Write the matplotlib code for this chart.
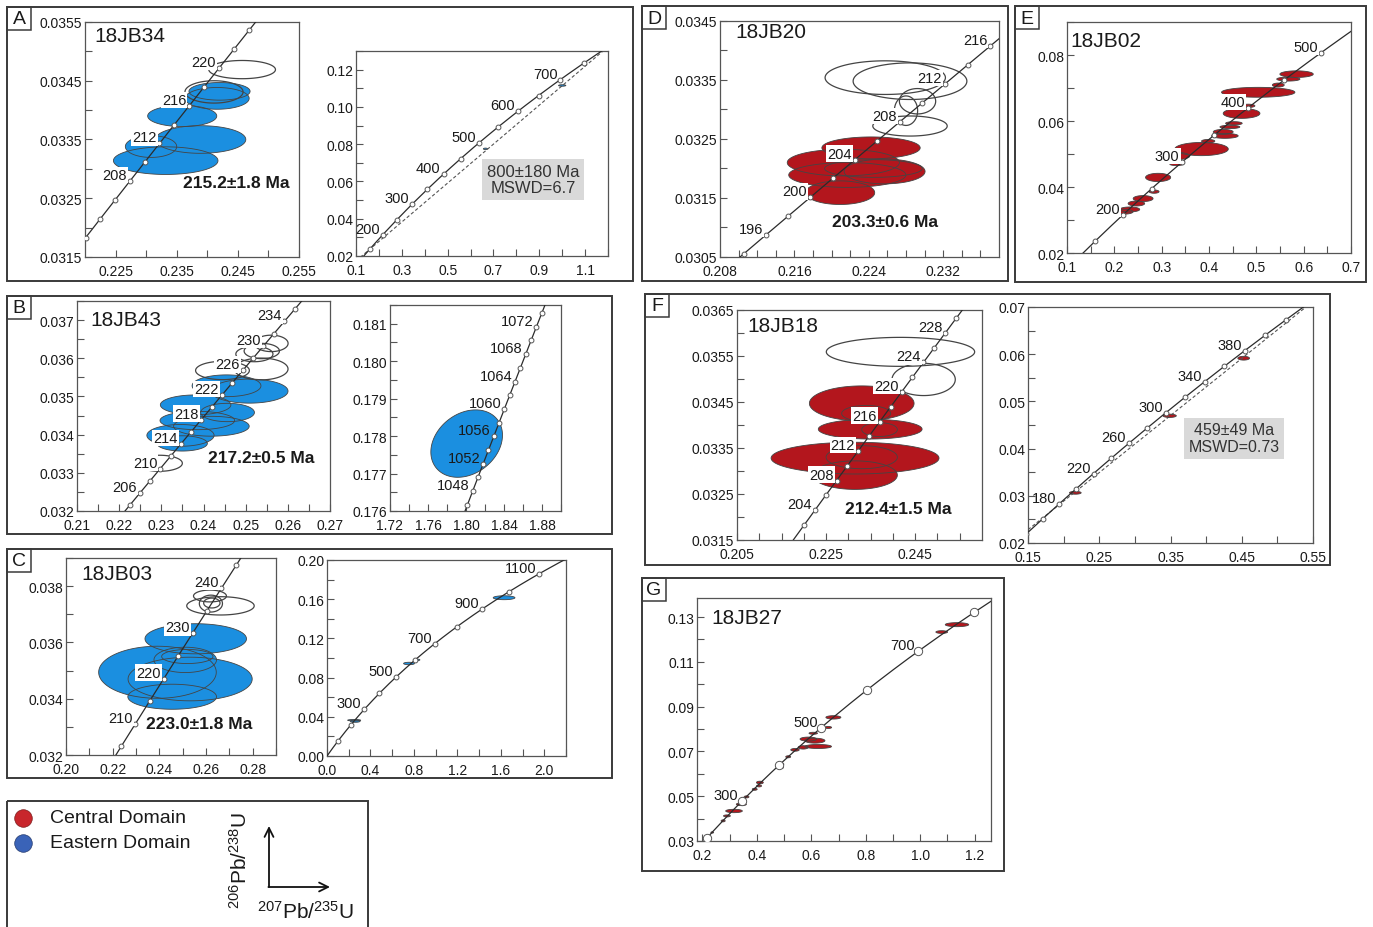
import numpy as np
import matplotlib
matplotlib.use('Agg')
import matplotlib.pyplot as plt
from matplotlib.patches import Rectangle, Polygon
from matplotlib.ticker import FixedLocator, FormatStrFormatter

plt.rcParams['font.family'] = ['Liberation Sans', 'DejaVu Sans']
plt.rcParams['mathtext.default'] = 'regular'

W, H = 1373, 928
BLUE = '#1b8fe0'
RED = '#b3161d'
EDGE = '#444444'

# U-Pb decay constants (1/yr)
L238 = 1.55125e-10
L235 = 9.8485e-10

# ---- 18JB34 (A) ----
a_filled = [(0.2332, 0.03314, 0.0171, 0.00047), (0.2389, 0.03350, 0.0148, 0.00047),
            (0.2308, 0.03338, 0.0084, 0.00037), (0.2359, 0.03390, 0.0113, 0.00036),
            (0.2416, 0.03420, 0.0105, 0.00037), (0.2420, 0.03432, 0.0100, 0.00030)]
a_open = [(0.2457, 0.03469, 0.0109, 0.00031), (0.2411, 0.03431, 0.0095, 0.00038)]
a_marks = [202, 204, 206, 208, 210, 212, 214, 216, 218, 220, 222, 224, 226]
a_labels = [208, 212, 216, 220]
a_age = '215.2±1.8 Ma'

a2_filled = [(0.665, 0.0775, 0.018, 0.0008), (1.000, 0.1115, 0.032, 0.0008)]
a2_marks = [150, 200, 250, 300, 350, 400, 450, 500, 550, 600, 650, 700, 750, 800]
a2_labels = [200, 300, 400, 500, 600, 700]
a2_intercepts = [150, 800]
a2_result = '800±180 Ma\nMSWD=6.7'

# ---- 18JB43 (B) ----
b_filled = [(0.25088, 0.03514, 0.01833, 0.00063), (0.24546, 0.03528, 0.01633, 0.00057),
            (0.23813, 0.03478, 0.01673, 0.00052), (0.24570, 0.03458, 0.01275, 0.00048),
            (0.23853, 0.03437, 0.01769, 0.00048), (0.24187, 0.03422, 0.01793, 0.00052),
            (0.23454, 0.03398, 0.01594, 0.00057), (0.23494, 0.03377, 0.01195, 0.00040)]
b_open = [(0.22960, 0.03325, 0.01076, 0.00042), (0.24450, 0.03568, 0.01275, 0.00048),
          (0.25367, 0.03572, 0.01275, 0.00057), (0.25382, 0.03619, 0.00837, 0.00040),
          (0.25606, 0.03639, 0.00800, 0.00043), (0.25207, 0.03611, 0.00880, 0.00040)]
b_marks = [202, 204, 206, 208, 210, 212, 214, 216, 218, 220, 222, 224, 226, 228,
           230, 232, 234, 236]
b_labels = [206, 210, 214, 218, 222, 226, 230, 234]
b_age = '217.2±0.5 Ma'

b2_ellipse = (1.8007, 0.1778, 0.0754, 0.0018, 0.25)
b2_marks = [1044, 1046, 1048, 1050, 1052, 1054, 1056, 1058, 1060, 1062, 1064, 1066,
            1068, 1070, 1072, 1074, 1076]
b2_labels = [1048, 1052, 1056, 1060, 1064, 1068, 1072]

# ---- 18JB03 (C) ----
c_filled = [(0.2556, 0.03613, 0.0435, 0.00107), (0.2392, 0.03494, 0.0504, 0.00185),
            (0.2532, 0.03470, 0.0532, 0.00155), (0.2455, 0.03407, 0.0380, 0.00089),
            (0.2511, 0.03538, 0.0268, 0.00090), (0.2520, 0.03550, 0.0220, 0.00050)]
c_open = [(0.2617, 0.03765, 0.0141, 0.00042), (0.2662, 0.03730, 0.0289, 0.00065),
          (0.2621, 0.03738, 0.0099, 0.00060), (0.2625, 0.03740, 0.0070, 0.00035)]
c_marks = [200, 205, 210, 215, 220, 225, 230, 235, 240, 245, 250]
c_labels = [210, 220, 230, 240]
c_age = '223.0±1.8 Ma'

c2_filled = [(0.25, 0.0365, 0.12, 0.0015), (0.26, 0.0355, 0.09, 0.0022),
             (0.755, 0.0944, 0.10, 0.0025), (0.83, 0.0981, 0.05, 0.0015),
             (1.63, 0.1615, 0.20, 0.0040)]
c2_marks = [100, 200, 300, 400, 500, 600, 700, 800, 900, 1000, 1100, 1200]
c2_labels = [300, 500, 700, 900, 1100]

# ---- 18JB20 (D) ----
d_filled = [(0.22424, 0.03235, 0.01057, 0.00037), (0.22126, 0.03210, 0.01206, 0.00045),
            (0.22169, 0.03189, 0.01260, 0.00042), (0.22570, 0.03195, 0.00870, 0.00042),
            (0.22091, 0.03159, 0.00745, 0.00040), (0.22450, 0.03200, 0.01050, 0.00030)]
d_open = [(0.22577, 0.03354, 0.01294, 0.00057), (0.22843, 0.03348, 0.01223, 0.00062),
          (0.22924, 0.03314, 0.00390, 0.00043), (0.22800, 0.03298, 0.00250, 0.00050),
          (0.22843, 0.03272, 0.00800, 0.00034)]
d_marks = [194, 196, 198, 200, 202, 204, 206, 208, 210, 212, 214, 216, 218]
d_labels = [196, 200, 204, 208, 212, 216]
d_age = '203.3±0.6 Ma'

# ---- 18JB02 (E) ----
e_filled = [(0.585, 0.0742, 0.0705, 0.0020), (0.5676, 0.0727, 0.049, 0.0012),
            (0.5464, 0.0709, 0.025, 0.0012), (0.504, 0.0687, 0.155, 0.0030),
            (0.483, 0.0646, 0.028, 0.0010), (0.4688, 0.0623, 0.0776, 0.0030),
            (0.4526, 0.0593, 0.035, 0.0010), (0.4441, 0.0582, 0.042, 0.0010),
            (0.430, 0.0567, 0.042, 0.0015), (0.4336, 0.0555, 0.056, 0.0015),
            (0.3983, 0.0539, 0.028, 0.0010), (0.3842, 0.0515, 0.113, 0.0040),
            (0.3313, 0.0494, 0.056, 0.0022), (0.3313, 0.0469, 0.028, 0.0008),
            (0.2925, 0.0429, 0.053, 0.0025), (0.2840, 0.0386, 0.021, 0.0010),
            (0.2608, 0.0365, 0.042, 0.0018), (0.2466, 0.0350, 0.035, 0.0015),
            (0.2326, 0.0332, 0.042, 0.0015), (0.2186, 0.0325, 0.042, 0.0015)]
e_marks = [150, 200, 250, 300, 350, 400, 450, 500, 550]
e_labels = [200, 300, 400, 500]

# ---- 18JB18 (F) ----
f_filled = [(0.2330, 0.03447, 0.0235, 0.00076), (0.2349, 0.03391, 0.0233, 0.00043),
            (0.2315, 0.03328, 0.0377, 0.00069), (0.2315, 0.03291, 0.0190, 0.00062),
            (0.2340, 0.03425, 0.0110, 0.00035), (0.2370, 0.03390, 0.0080, 0.00030),
            (0.2330, 0.03330, 0.0160, 0.00050)]
f_open = [(0.2417, 0.03559, 0.0333, 0.00063), (0.2469, 0.03499, 0.0142, 0.00070)]
f_marks = [202, 204, 206, 208, 210, 212, 214, 216, 218, 220, 222, 224, 226, 228,
           230, 232]
f_labels = [204, 208, 212, 216, 220, 224, 228]
f_age = '212.4±1.5 Ma'

f2_filled = [(0.2164, 0.03064, 0.0164, 0.0006), (0.3488, 0.04695, 0.0187, 0.0007),
             (0.4527, 0.05915, 0.0164, 0.0008)]
f2_marks = [140, 160, 180, 200, 220, 240, 260, 280, 300, 320, 340, 360, 380, 400,
            420, 440, 460]
f2_labels = [180, 220, 260, 300, 340, 380]
f2_intercepts = [170, 459]
f2_result = '459±49 Ma\nMSWD=0.73'

# ---- 18JB27 (G) ----
g_filled = [(1.135, 0.1266, 0.086, 0.0018), (1.079, 0.1233, 0.043, 0.0012),
            (0.681, 0.0852, 0.055, 0.0015), (0.662, 0.0807, 0.025, 0.0009),
            (0.607, 0.0781, 0.031, 0.0009), (0.589, 0.0755, 0.061, 0.0018),
            (0.613, 0.0748, 0.074, 0.0022), (0.625, 0.0722, 0.098, 0.0018),
            (0.570, 0.0718, 0.037, 0.0015), (0.540, 0.0707, 0.031, 0.0012),
            (0.515, 0.0676, 0.018, 0.0009), (0.490, 0.0643, 0.018, 0.0009),
            (0.490, 0.0628, 0.015, 0.0008), (0.411, 0.0561, 0.025, 0.0012),
            (0.408, 0.0546, 0.018, 0.0009), (0.392, 0.0531, 0.018, 0.0009),
            (0.362, 0.0497, 0.018, 0.0009), (0.343, 0.0464, 0.037, 0.0012),
            (0.316, 0.0434, 0.061, 0.0015), (0.290, 0.0412, 0.025, 0.0009),
            (0.276, 0.0390, 0.015, 0.0009), (0.236, 0.0338, 0.010, 0.0006)]
g_marks = [200, 300, 400, 500, 600, 700, 800]
g_labels = [300, 500, 700]


def concordia(t_ma):
    t = np.asarray(t_ma, dtype=float) * 1e6
    return np.expm1(L235 * t), np.expm1(L238 * t)


def ellipse_xy(cx, cy, w, h, rho=0.0, n=160):
    t = np.linspace(0, 2 * np.pi, n)
    x = cx + 0.5 * w * np.cos(t)
    y = cy + 0.5 * h * (rho * np.cos(t) + np.sqrt(1 - rho ** 2) * np.sin(t))
    return np.column_stack([x, y])


def make_axes(fig, box, xlim, ylim, xmaj, xmin, ymaj, ymin, xfmt, yfmt):
    x0, y0, x1, y1 = box
    ax = fig.add_axes([x0 / W, 1 - y1 / H, (x1 - x0) / W, (y1 - y0) / H])
    ax.set_xlim(xlim)
    ax.set_ylim(ylim)
    ax.xaxis.set_major_locator(FixedLocator(xmaj))
    ax.xaxis.set_minor_locator(FixedLocator(xmin))
    ax.yaxis.set_major_locator(FixedLocator(ymaj))
    ax.yaxis.set_minor_locator(FixedLocator(ymin))
    ax.xaxis.set_major_formatter(FormatStrFormatter(xfmt))
    ax.yaxis.set_major_formatter(FormatStrFormatter(yfmt))
    ax.tick_params(which='both', direction='in', length=5, width=0.8, color='#555555',
                   labelsize=10, labelcolor='#1a1a1a')
    ax.tick_params(axis='x', which='both', pad=5)
    ax.tick_params(axis='y', which='both', pad=2)
    for sp in ax.spines.values():
        sp.set_color('#555555')
        sp.set_linewidth(0.9)
    return ax


def draw_ellipses(ax, filled, opened, color):
    shapes = [ellipse_xy(*e) for e in filled]
    for xy in shapes:
        ax.add_patch(Polygon(xy, closed=True, fc=color, ec='none', zorder=2))
    for xy in shapes:
        ax.add_patch(Polygon(xy, closed=True, fill=False, ec=EDGE, lw=0.6, zorder=3))
    for e in opened:
        ax.add_patch(Polygon(ellipse_xy(*e), closed=True, fill=False, ec=EDGE,
                             lw=0.9, zorder=3))


def draw_concordia(ax, marks, labels, span, ms=3.5, fs=10.5, boxed=True):
    cx, cy = concordia(np.linspace(span[0], span[1], 600))
    ax.plot(cx, cy, color='#2b2b2b', lw=0.9, zorder=4)
    mx, my = concordia(marks)
    ax.plot(mx, my, 'o', ms=ms, mfc='white', mec='#555555', mew=0.7, zorder=5)
    lx, ly = concordia(labels)
    for age, x, y in zip(labels, lx, ly):
        kw = {}
        if boxed:
            kw['bbox'] = dict(boxstyle='square,pad=0.08', fc='white', ec='none')
        ax.annotate(str(age), (x, y), xytext=(-3, 6), textcoords='offset pixels',
                    ha='right', va='center', fontsize=fs, color='#1a1a1a',
                    zorder=6, **kw)


def draw_discordia(ax, ages):
    (x1, x2), (y1, y2) = concordia(ages)
    slope = (y2 - y1) / (x2 - x1)
    xs = np.array(ax.get_xlim())
    ax.plot(xs, y1 + slope * (xs - x1), ls=(0, (3, 2)), color='#555555', lw=0.8,
            zorder=3)


def sample_name(ax, name, dx, dy):
    ax.annotate(name, (0, 1), xycoords='axes fraction', xytext=(dx, -dy),
                textcoords='offset pixels', ha='left', va='center', fontsize=15,
                color='#1a1a1a', zorder=7)


def age_text(ax, x, y, txt):
    ax.text(x, y, txt, ha='center', va='center', fontsize=12.5, fontweight='bold',
            color='#1a1a1a', zorder=7)


def result_box(ax, x, y, txt, fs):
    ax.text(x, y, txt, ha='center', va='center', fontsize=fs, color='#333333',
            linespacing=1.15, zorder=7,
            bbox=dict(boxstyle='square,pad=0.3', fc='#d9d9d9', ec='none'))


fig = plt.figure(figsize=(W / 100, H / 100), dpi=100)

# overlay in pixel coordinates for frames, panel letters and the legend
ov = fig.add_axes([0, 0, 1, 1])
ov.set_xlim(0, W)
ov.set_ylim(H, 0)
ov.axis('off')

frames = {'A': (7, 8, 633, 282), 'B': (7, 297, 612, 535), 'C': (7, 550, 612, 779),
          'D': (642, 7, 1008, 282), 'E': (1015, 7, 1366, 283),
          'F': (645, 295, 1330, 566), 'G': (642, 579, 1004, 872)}
for letter, (x0, y0, x1, y1) in frames.items():
    ov.add_patch(Rectangle((x0, y0), x1 - x0, y1 - y0, fill=False, ec='#3a3a3a', lw=1.4))
    ov.add_patch(Rectangle((x0, y0), 24, 23, fill=False, ec='#3a3a3a', lw=1.1))
    ov.text(x0 + 12, y0 + 12, letter, ha='center', va='center', fontsize=14,
            color='#1a1a1a')

# legend box
ov.add_patch(Rectangle((7, 802), 361, 140, fill=False, ec='#3a3a3a', lw=1.4))
ov.scatter([23], [819], s=160, c='#c8262c', edgecolors='#7a1a1a', linewidths=0.5)
ov.scatter([23], [844], s=160, c='#3a63b8', edgecolors='#22386b', linewidths=0.5)
ov.text(50, 819, 'Central Domain', ha='left', va='center', fontsize=14, color='#1a1a1a')
ov.text(50, 844, 'Eastern Domain', ha='left', va='center', fontsize=14, color='#1a1a1a')
ov.text(240, 860, r'$^{206}$Pb/$^{238}$U', rotation=90, ha='center', va='center',
        fontsize=15, color='#1a1a1a')
ov.text(306, 912, r'$^{207}$Pb/$^{235}$U', ha='center', va='center', fontsize=15,
        color='#1a1a1a')
ov.annotate('', xy=(269, 827), xytext=(269, 888),
            arrowprops=dict(arrowstyle='->', lw=1.3, color='#111111', mutation_scale=16,
                            shrinkA=0, shrinkB=0))
ov.annotate('', xy=(330, 888), xytext=(268.4, 888),
            arrowprops=dict(arrowstyle='->', lw=1.3, color='#111111', mutation_scale=16,
                            shrinkA=0, shrinkB=0))

# A
ax = make_axes(fig, (85, 23, 299, 258), (0.220, 0.255), (0.0315, 0.0355),
               [0.225, 0.235, 0.245, 0.255], [0.230, 0.240, 0.250],
               np.arange(0.0315, 0.03551, 0.001), np.arange(0.032, 0.0351, 0.001),
               '%.3f', '%.4f')
draw_ellipses(ax, a_filled, a_open, BLUE)
draw_concordia(ax, a_marks, a_labels, (198, 230))
sample_name(ax, '18JB34', 9, 14)
age_text(ax, 0.2447, 0.03277, a_age)

ax = make_axes(fig, (356, 52, 608, 257), (0.1, 1.2), (0.02, 0.13),
               np.arange(0.1, 1.11, 0.2), np.arange(0.2, 1.21, 0.2),
               np.arange(0.02, 0.121, 0.02), np.arange(0.03, 0.131, 0.02),
               '%.1f', '%.2f')
draw_discordia(ax, a2_intercepts)
draw_ellipses(ax, a2_filled, [], BLUE)
draw_concordia(ax, a2_marks, a2_labels, (100, 850), boxed=False)
result_box(ax, 0.872, 0.0611, a2_result, 12)

# B
ax = make_axes(fig, (77, 302, 330, 512), (0.21, 0.27), (0.032, 0.0375),
               np.arange(0.21, 0.2701, 0.01), np.arange(0.215, 0.27, 0.01),
               np.arange(0.032, 0.03701, 0.001), np.arange(0.0325, 0.0376, 0.001),
               '%.2f', '%.3f')
draw_ellipses(ax, b_filled, b_open, BLUE)
draw_concordia(ax, b_marks, b_labels, (198, 240))
sample_name(ax, '18JB43', 13, 18)
age_text(ax, 0.25367, 0.03339, b_age)

ax = make_axes(fig, (390, 306, 561, 512), (1.72, 1.90), (0.176, 0.1815),
               [1.72, 1.76, 1.80, 1.84, 1.88], [1.74, 1.78, 1.82, 1.86, 1.90],
               np.arange(0.176, 0.18101, 0.001), np.arange(0.1765, 0.1816, 0.001),
               '%.2f', '%.3f')
cx, cy, w, h, rho = b2_ellipse
xy = ellipse_xy(cx, cy, w, h, rho)
ax.add_patch(Polygon(xy, closed=True, fc=BLUE, ec=EDGE, lw=0.6, zorder=2))
draw_concordia(ax, b2_marks, b2_labels, (1030, 1090), boxed=False)

# C
ax = make_axes(fig, (66, 559, 276, 756), (0.20, 0.29), (0.032, 0.039),
               np.arange(0.20, 0.2801, 0.02), np.arange(0.21, 0.291, 0.02),
               np.arange(0.032, 0.03801, 0.002), np.arange(0.033, 0.0391, 0.002),
               '%.2f', '%.3f')
draw_ellipses(ax, c_filled, c_open, BLUE)
draw_concordia(ax, c_marks, c_labels, (195, 255))
sample_name(ax, '18JB03', 15, 16)
age_text(ax, 0.2572, 0.03313, c_age)

ax = make_axes(fig, (327, 561, 566, 757), (0.0, 2.2), (0.0, 0.2),
               np.arange(0.0, 2.01, 0.4), np.arange(0.2, 2.21, 0.4),
               np.arange(0.0, 0.201, 0.04), np.arange(0.02, 0.2, 0.04),
               '%.1f', '%.2f')
draw_ellipses(ax, c2_filled, [], BLUE)
draw_concordia(ax, c2_marks, c2_labels, (0, 1300), boxed=False)

# D
ax = make_axes(fig, (720, 22, 999, 258), (0.208, 0.238), (0.0305, 0.0345),
               [0.208, 0.216, 0.224, 0.232],
               [0.210, 0.212, 0.214, 0.218, 0.220, 0.222, 0.226, 0.228, 0.230,
                0.234, 0.236],
               np.arange(0.0305, 0.03451, 0.001), np.arange(0.031, 0.0341, 0.001),
               '%.3f', '%.4f')
draw_ellipses(ax, d_filled, d_open, RED)
draw_concordia(ax, d_marks, d_labels, (190, 222))
sample_name(ax, '18JB20', 15, 10)
age_text(ax, 0.2257, 0.03111, d_age)

# E
ax = make_axes(fig, (1067, 23, 1351, 254), (0.1, 0.7), (0.02, 0.09),
               np.arange(0.1, 0.701, 0.1), np.arange(0.15, 0.7, 0.1),
               np.arange(0.02, 0.0801, 0.02), np.arange(0.03, 0.091, 0.02),
               '%.1f', '%.2f')
draw_ellipses(ax, e_filled, [], RED)
draw_concordia(ax, e_marks, e_labels, (100, 600))
sample_name(ax, '18JB02', 3, 18)

# F
ax = make_axes(fig, (737, 311, 982, 541), (0.205, 0.26), (0.0315, 0.0365),
               [0.205, 0.225, 0.245],
               [0.210, 0.215, 0.220, 0.230, 0.235, 0.240, 0.250, 0.255],
               np.arange(0.0315, 0.03651, 0.001), np.arange(0.032, 0.0361, 0.001),
               '%.3f', '%.4f')
draw_ellipses(ax, f_filled, f_open, RED)
draw_concordia(ax, f_marks, f_labels, (198, 236))
sample_name(ax, '18JB18', 10, 15)
age_text(ax, 0.2413, 0.03218, f_age)

ax = make_axes(fig, (1028, 308, 1313, 544), (0.15, 0.55), (0.02, 0.07),
               np.arange(0.15, 0.551, 0.1), np.arange(0.2, 0.55, 0.1),
               np.arange(0.02, 0.0701, 0.01), np.arange(0.025, 0.07, 0.01),
               '%.2f', '%.2f')
draw_discordia(ax, f2_intercepts)
draw_ellipses(ax, f2_filled, [], RED)
draw_concordia(ax, f2_marks, f2_labels, (100, 500), boxed=False)
result_box(ax, 0.4391, 0.0422, f2_result, 11.5)

# G
ax = make_axes(fig, (697, 599, 991, 842), (0.18, 1.26), (0.03, 0.1385),
               np.arange(0.2, 1.21, 0.2), np.arange(0.3, 1.2, 0.2),
               np.arange(0.03, 0.131, 0.02), np.arange(0.04, 0.131, 0.02),
               '%.1f', '%.2f')
draw_ellipses(ax, g_filled, [], RED)
draw_concordia(ax, g_marks, g_labels, (150, 900), ms=6, boxed=False)
sample_name(ax, '18JB27', 14, 20)

fig.savefig('out.png', dpi=100)
